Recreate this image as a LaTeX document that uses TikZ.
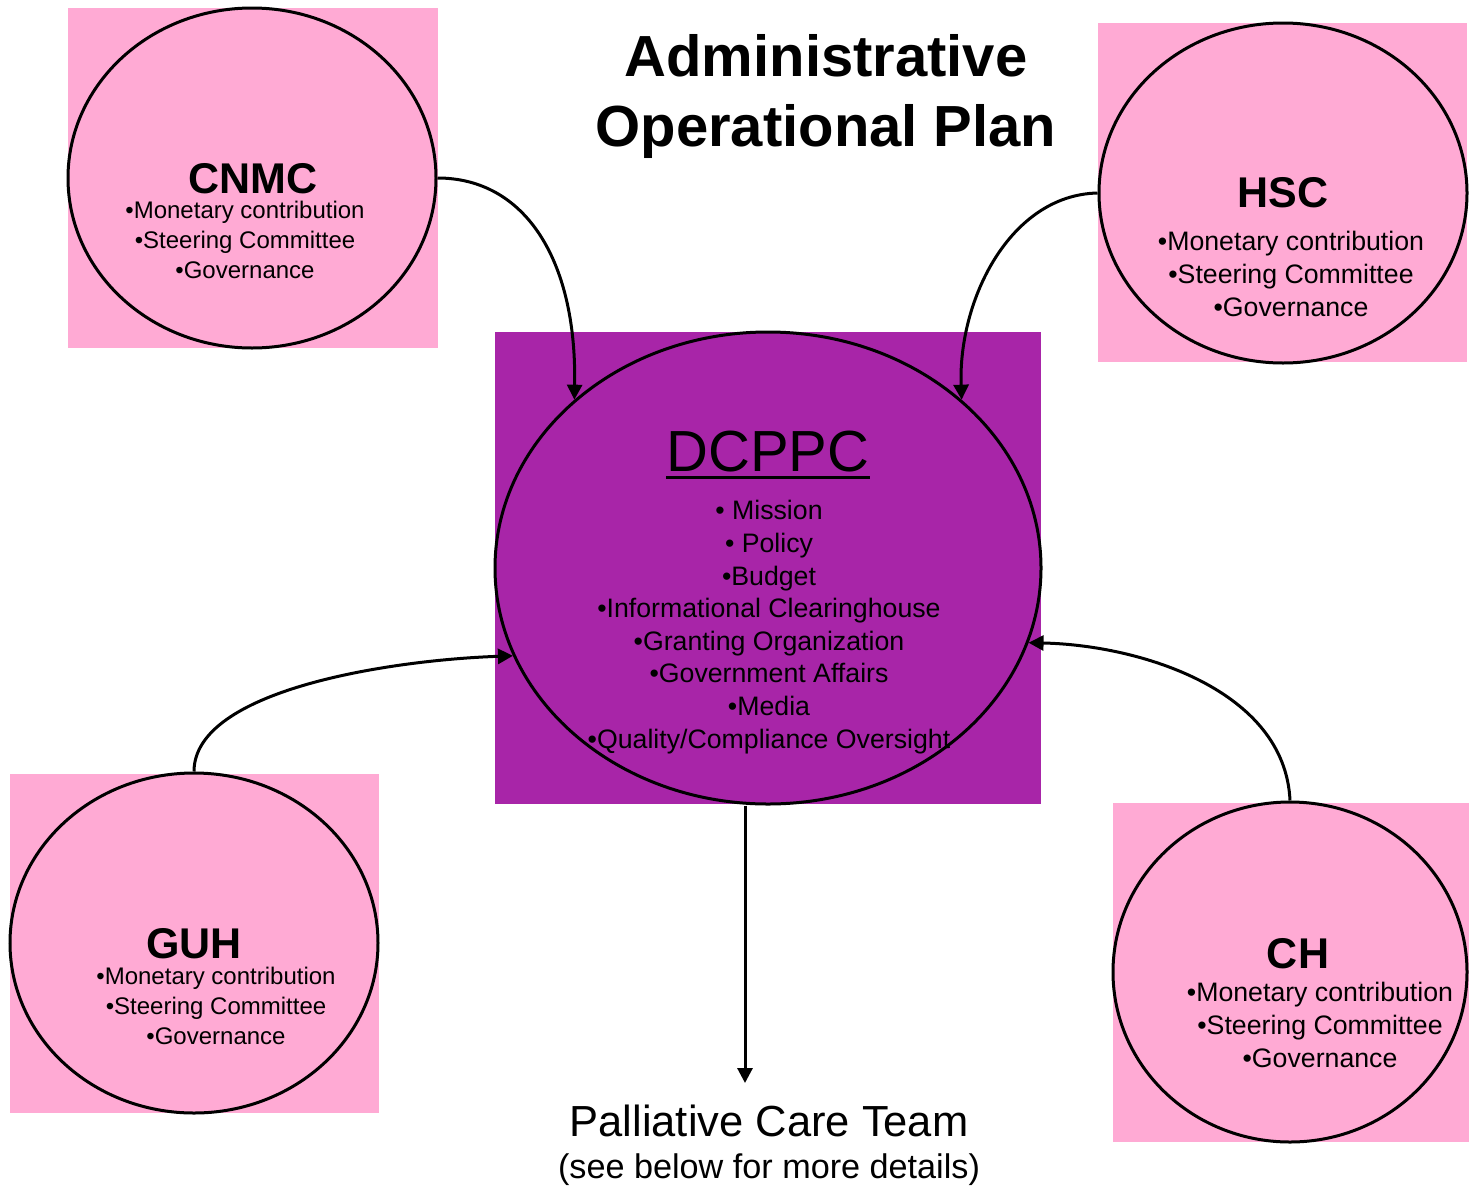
\documentclass[tikz,border=0pt]{standalone}
\usepackage{fontspec}
\setmainfont{Liberation Sans}
\usepackage{tikz}
\usetikzlibrary{arrows.meta,shapes.geometric}
\definecolor{partnerpink}{RGB}{255,170,212}
\definecolor{hubpurple}{RGB}{168,37,168}

\begin{document}
\begin{tikzpicture}[x=1pt,y=-1pt,
    partner/.style={ellipse,draw,line width=3pt,fill=partnerpink,inner sep=0pt,
      minimum width=368pt,minimum height=340pt},
    hub/.style={ellipse,draw,line width=3pt,fill=hubpurple,inner sep=0pt,
      minimum width=546pt,minimum height=472pt},
    partnername/.style={font=\bfseries\fontsize{43}{50}\selectfont,inner sep=0pt},
    duties/.style={align=center,inner sep=0pt,font=\fontsize{24}{30}\selectfont},
    bigduties/.style={align=center,inner sep=0pt,font=\fontsize{26.7}{32.6}\selectfont},
    link/.style={line width=3pt,-{Triangle[length=15pt,width=15pt]}}]
  \useasboundingbox (0,0) rectangle (1469,1186);

  % square backgrounds
  \fill[partnerpink] (68,8) rectangle (438,348);
  \fill[partnerpink] (1098,23) rectangle (1467,362);
  \fill[partnerpink] (10,774) rectangle (379,1113);
  \fill[partnerpink] (1113,803) rectangle (1469,1142);
  \fill[hubpurple] (495,332) rectangle (1041,804);

  % title
  \node[font=\bfseries\fontsize{58}{70}\selectfont,align=center,inner sep=0pt]
    (title) at (826,97) {Administrative\\Operational Plan};

  % partners
  \node[partner] (cnmc) at (252,178) {};
  \node[partnername] (cnmclbl) at (253,179) {CNMC};
  \node[duties] (cnmctxt) at (245,240)
    {•Monetary contribution\\•Steering Committee\\•Governance};

  \node[partner] (hsc) at (1283,193) {};
  \node[partnername] (hsclbl) at (1283,193) {HSC};
  \node[bigduties] (hsctxt) at (1291,274)
    {•Monetary contribution\\•Steering Committee\\•Governance};

  \node[partner] (guh) at (194,943) {};
  \node[partnername] (guhlbl) at (194,944) {GUH};
  \node[duties] (guhtxt) at (216,1006)
    {•Monetary contribution\\•Steering Committee\\•Governance};

  \node[partner,minimum width=354pt] (ch) at (1290,972) {};
  \node[partnername] (chlbl) at (1298,954) {CH};
  \node[bigduties] (chtxt) at (1320,1025)
    {•Monetary contribution\\•Steering Committee\\•Governance};

  % the hub
  \node[hub] (dcppc) at (768,568) {};
  \node[font=\fontsize{58}{60}\selectfont,inner sep=0pt] (dcppclbl) at (768,452)
    {DCPPC};
  \draw[line width=3pt] ([yshift=-6pt]dcppclbl.base west) -- ([yshift=-6pt]dcppclbl.base east);
  \node[bigduties] (dcppctxt) at (769,627)
    {• Mission\\• Policy\\•Budget\\•Informational Clearinghouse\\
     •Granting Organization\\•Government Affairs\\•Media\\
     •Quality/Compliance Oversight};

  % palliative care team
  \node[font=\fontsize{43.5}{50}\selectfont,inner sep=0pt] (pct) at (769,1121)
    {Palliative Care Team};
  \node[font=\fontsize{34.2}{40}\selectfont,inner sep=0pt] (pctnote) at (769,1170)
    {(see below for more details)};
  \coordinate (pcttip) at (745,1083);

  % connectors
  \draw[link] (cnmc.east) .. controls (525,178) and (577,260) .. (dcppc.139);
  \draw[link] (hsc.west) .. controls (1010,195) and (958,300) .. (dcppc.41);
  \draw[link] (guh.north) .. controls (194,690) and (390,660) .. (dcppc.199);
  \draw[link] (ch.north) .. controls (1285,690) and (1140,645) .. (dcppc.344);
  \draw[link] (dcppc.south -| pcttip) -- (pcttip);
\end{tikzpicture}
\end{document}
